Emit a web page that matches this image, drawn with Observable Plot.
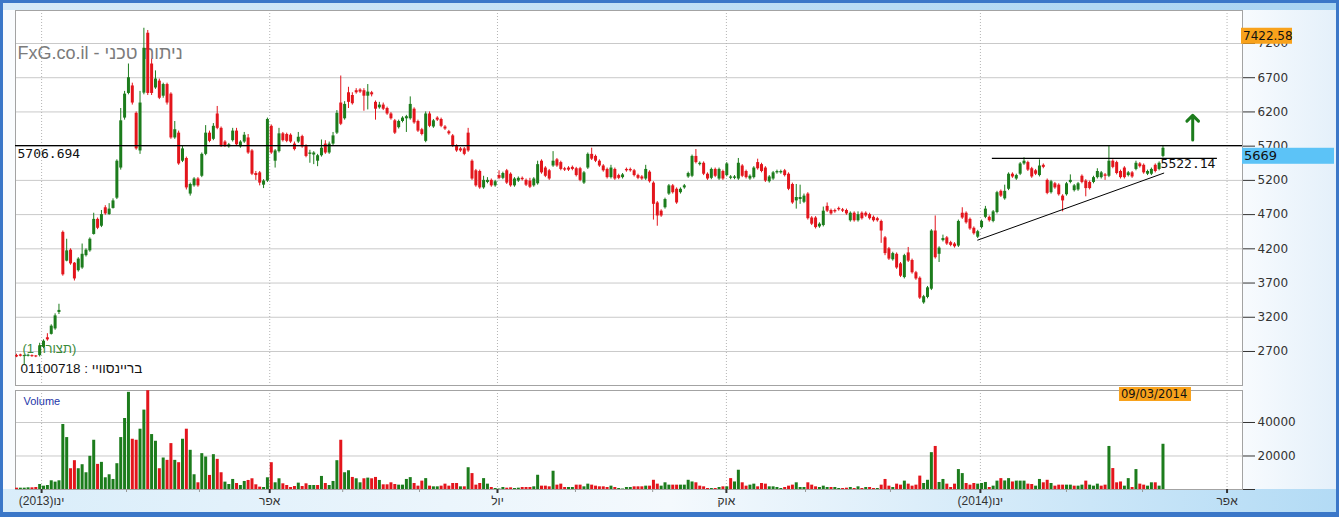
<!DOCTYPE html>
<html><head><meta charset="utf-8">
<script src="https://cdn.jsdelivr.net/npm/d3@7"></script>
<script src="https://cdn.jsdelivr.net/npm/@observablehq/plot@0.6"></script>
<style>
body{margin:0;background:#fff;}
#frame{position:relative;width:1339px;height:517px;overflow:hidden;background:#3b77c8;}
.bg{position:absolute;}
#topband{left:3px;top:3px;width:1333px;height:7px;background:linear-gradient(to right,#d6eaf8,#a9d4f2);}
#leftstrip{left:3px;top:10px;width:12px;height:479px;background:#fafcfe;}
#plotbg{left:15px;top:10px;width:1227px;height:479px;background:#fff;}
#rightpanel{left:1242px;top:10px;width:94px;height:479px;background:linear-gradient(to right,#f8fbfe,#e4f0fa);}
#bottomband{left:3px;top:489px;width:1333px;height:23px;background:linear-gradient(to right,#d9edfa 0%,#f4f9fd 50%,#b3dbf5 100%);}
#price,#vol{position:absolute;left:0;}
#price{top:0;} #vol{top:388px;}
svg{overflow:visible;}
</style></head>
<body>
<div id="frame">
<div class="bg" id="topband"></div>
<div class="bg" id="leftstrip"></div>
<div class="bg" id="plotbg"></div>
<div class="bg" id="rightpanel"></div>
<div class="bg" id="bottomband"></div>
<div id="price"></div>
<div id="vol"></div>
</div>
<script>
// ---- data (daily candles, index order) ----
const open = [
2640,2650,2625,2630,2640,2635,2640,2760,2900,2950,
3030,3270,4440,4020,4180,3990,3880,3920,4100,4170,
4410,4630,4530,4800,4700,4790,4940,5380,6110,6470,
6580,6180,5630,6475,7350,6900,6550,6650,6430,6600,
6460,5820,5890,5480,5520,5000,5120,5220,5260,5580,
5890,5800,6170,5960,5760,5690,5780,5920,5690,5760,
5820,5630,5300,5310,5130,5190,5990,5480,5620,5880,
5870,5860,5730,5760,5840,5700,5580,5570,5480,5560,
5730,5600,5730,5890,6330,6100,6480,6440,6510,6520,
6510,6430,6480,6340,6260,6300,6250,6170,6070,5970,
6060,6100,6100,6240,6060,5940,5770,6170,5980,6110,
6090,5980,5910,5850,5700,5660,5660,5890,5480,5340,
5330,5090,5170,5200,5120,5270,5230,5340,5290,5120,
5190,5230,5200,5190,5120,5150,5480,5380,5340,5410,
5500,5460,5370,5380,5390,5370,5370,5160,5380,5580,
5550,5480,5410,5360,5240,5360,5270,5240,5360,5360,
5340,5270,5250,5220,5320,5160,4870,4750,4800,5000,
5120,5070,5020,5090,5250,5260,5550,5430,5450,5290,
5230,5360,5220,5330,5270,5230,5230,5220,5410,5330,
5220,5240,5460,5430,5380,5180,5220,5310,5310,5340,
5290,5140,4900,4920,4880,5000,4650,4650,4520,4540,
4820,4760,4760,4790,4770,4760,4610,4720,4610,4720,
4720,4700,4660,4640,4600,4360,4200,4040,4120,3980,
3780,4140,4030,3850,3770,3410,3490,3610,4460,4120,
4320,4360,4290,4270,4240,4720,4720,4630,4500,4370,
4510,4660,4660,4600,4730,5040,4930,5070,5290,5220,
5290,5440,5460,5370,5340,5270,5420,5200,5020,5150,
5130,4970,4990,5170,5050,5060,5260,5190,5170,5170,
5240,5240,5280,5260,5480,5460,5330,5380,5270,5310,
5360,5440,5420,5290,5290,5420,5360,5550];
const high = [
2660,2660,2650,2660,2650,2640,2820,2870,2960,3090,
3250,3390,4460,4340,4200,4000,4070,4270,4200,4360,
4720,4650,4760,4830,4860,4930,5500,6250,6500,6900,
6620,6200,6500,7422.58,7390,6970,6800,6680,6620,6620,
6480,6060,5920,5700,5540,5160,5240,5240,5600,6000,
5920,6030,6280,5980,5780,5740,5960,5960,5780,5900,
5870,5650,5330,5330,5210,6110,6010,5650,5960,5900,
5890,5880,5760,5900,5860,5720,5640,5620,5580,5790,
5780,5760,5900,6220,6725,6350,6560,6480,6540,6540,
6540,6600,6500,6360,6340,6330,6270,6190,6090,6080,
6130,6150,6420,6260,6080,5960,6200,6200,6090,6130,
6110,6000,5930,5870,5720,5680,5680,5960,5500,5360,
5350,5260,5240,5220,5200,5340,5320,5360,5310,5240,
5250,5250,5220,5230,5240,5480,5500,5400,5360,5620,
5520,5480,5390,5400,5410,5390,5390,5330,5600,5670,
5570,5500,5430,5380,5420,5380,5290,5300,5380,5380,
5360,5290,5270,5420,5340,5180,4890,4770,4940,5140,
5140,5090,5090,5140,5320,5570,5650,5470,5470,5310,
5380,5380,5380,5350,5460,5270,5270,5520,5430,5350,
5280,5400,5510,5450,5400,5270,5330,5350,5350,5360,
5310,5160,5140,5130,5000,5020,4670,4670,4580,4810,
4870,4780,4780,4810,4790,4780,4740,4740,4740,4740,
4740,4720,4680,4660,4620,4380,4220,4150,4140,4000,
4120,4220,4050,3870,3790,3520,3650,4480,4680,4230,
4400,4380,4310,4290,4620,4800,4740,4650,4520,4470,
4620,4820,4680,4760,5040,5060,5130,5310,5310,5290,
5460,5530,5480,5390,5360,5500,5440,5220,5200,5170,
5150,4990,5170,5280,5140,5170,5280,5210,5190,5260,
5370,5330,5300,5700,5500,5480,5350,5400,5330,5330,
5480,5460,5440,5350,5380,5440,5470,5710];
const low = [
2610,2620,2500,2620,2615,2610,2620,2740,2850,2940,
3010,3240,3800,4010,3960,3730,3860,3900,4080,4150,
4400,4480,4510,4690,4690,4780,4920,5350,6080,6450,
6300,5640,5580,6450,6440,6440,6530,6380,6400,6300,
5800,5800,5420,5460,5060,4970,5100,5100,5240,5560,
5750,5780,5940,5680,5680,5670,5760,5700,5670,5740,
5580,5270,5200,5120,5080,5170,5580,5380,5600,5760,
5750,5740,5630,5740,5670,5530,5450,5430,5400,5540,
5580,5580,5710,5870,6000,6080,6250,6300,6460,6470,
6210,6230,6420,6080,6240,6220,6150,6080,5870,5950,
6040,5900,6080,6020,5900,5850,5750,5970,5960,6060,
5970,5930,5860,5680,5610,5610,5560,5610,5200,5100,
5070,5070,5150,5100,5100,5210,5210,5140,5100,5100,
5170,5190,5110,5080,5100,5130,5290,5240,5200,5390,
5390,5340,5330,5330,5340,5250,5180,5140,5360,5490,
5460,5390,5320,5220,5220,5200,5210,5220,5320,5320,
5250,5210,5200,5200,5160,4620,4530,4660,4780,4980,
5000,4850,5000,5070,5230,5240,5440,5410,5270,5200,
5210,5240,5200,5200,5250,5210,5210,5200,5240,5220,
5200,5220,5350,5310,5170,5160,5200,5290,5290,5250,
5050,4850,4780,4850,4860,4620,4540,4490,4500,4520,
4730,4690,4720,4750,4730,4690,4590,4590,4590,4620,
4660,4620,4590,4590,4280,4100,4030,4020,3900,3780,
3760,4000,3830,3740,3460,3390,3470,3590,4050,4000,
4300,4250,4230,4210,4220,4630,4560,4470,4400,4350,
4490,4640,4590,4580,4710,4950,4910,5050,5230,5200,
5270,5420,5330,5230,5270,5250,5370,4990,5000,5070,
4970,4740,4970,5150,5030,5040,5150,4960,5060,5150,
5220,5220,5200,5240,5370,5280,5220,5220,5250,5230,
5340,5380,5290,5270,5270,5310,5340,5530];
const close = [
2620,2630,2640,2645,2625,2620,2780,2850,2870,3070,
3220,3300,3820,4170,3980,3760,4050,4120,4180,4340,
4630,4500,4700,4710,4780,4900,5480,6070,6460,6700,
6330,5660,6330,7130,6470,6470,6680,6400,6600,6330,
5820,5940,5440,5660,5090,5140,5220,5120,5580,5890,
5770,5990,5960,5700,5700,5720,5920,5720,5760,5860,
5600,5290,5270,5160,5190,6090,5600,5630,5880,5780,
5770,5760,5650,5830,5690,5550,5600,5600,5560,5670,
5600,5730,5850,6180,6020,6310,6340,6320,6480,6490,
6430,6490,6450,6240,6300,6240,6170,6100,5890,6060,
6110,6130,6310,6040,5920,5870,6170,5990,6070,6080,
5990,5950,5880,5700,5630,5630,5580,5630,5220,5120,
5090,5200,5200,5120,5180,5230,5300,5160,5120,5220,
5230,5210,5130,5100,5220,5430,5310,5260,5220,5480,
5410,5360,5350,5350,5360,5270,5200,5310,5580,5510,
5480,5410,5340,5240,5380,5220,5230,5280,5340,5340,
5270,5230,5220,5360,5180,4850,4680,4680,4920,5120,
5020,4870,5070,5120,5300,5550,5460,5450,5290,5220,
5360,5260,5360,5220,5440,5250,5250,5450,5260,5240,
5260,5380,5370,5330,5190,5250,5310,5330,5330,5270,
5070,4870,4950,4950,4970,4640,4560,4510,4560,4750,
4750,4710,4740,4770,4750,4710,4720,4610,4700,4640,
4680,4640,4610,4610,4460,4130,4050,4130,3920,3800,
4100,4020,3850,3760,3480,3500,3630,4460,4070,4210,
4350,4270,4250,4230,4600,4650,4580,4490,4420,4450,
4600,4780,4610,4740,5020,4970,5040,5290,5250,5270,
5440,5480,5350,5250,5290,5410,5390,5010,5180,5090,
4990,4900,5150,5200,5120,5150,5170,5080,5080,5240,
5330,5310,5260,5480,5390,5300,5240,5240,5310,5250,
5450,5400,5310,5330,5360,5330,5450,5669];
const volume = [
800,800,800,1000,1000,1200,3000,2000,2400,5200,
4400,5200,38800,31000,12400,17200,12400,14800,10000,19800,
29400,15000,16200,7000,8800,6000,15400,31000,42400,58000,
30000,29400,36000,47400,59000,32800,28800,12400,18800,17400,
27400,17400,16000,30000,36000,23400,8800,4000,21400,19400,
8400,20800,18000,10000,4400,3000,6000,3600,2400,4800,
5400,6400,2800,1400,1200,7000,16000,4000,6400,3400,
2400,1200,1800,3800,1800,3400,2400,2400,2400,7800,
3600,2400,4800,17200,29400,10000,11200,7200,6400,4000,
6400,6800,6400,7200,5400,2800,2800,4000,3000,2600,
2600,6000,7100,3600,2000,5000,6500,2000,1600,1600,
2000,3200,2000,3600,3600,1600,1600,13000,9500,2600,
3600,6500,3200,1200,600,300,1200,800,1000,600,
800,1200,1200,1200,1600,8500,2000,2000,1600,10900,
2600,3200,1200,1200,1200,2600,2600,1600,3200,2600,
2000,1600,1600,1200,2000,1200,600,300,1200,1200,
1600,1600,1600,2000,2000,5500,3200,2000,4000,2600,
2600,2600,2600,2600,5500,4500,4000,2000,1600,600,
600,600,1200,1600,1600,6500,4500,11500,4000,2000,
2600,3200,1600,3600,3200,1600,1600,1200,600,1200,
2000,2600,4000,1200,1200,4000,2600,1600,1200,2000,
1200,1200,1200,600,600,800,1200,600,1600,600,
1200,1200,600,600,2600,6000,2000,1200,3200,2600,
5000,3200,2000,2600,8000,3600,5500,22000,25700,4200,
6000,3200,1200,3200,11900,9500,3600,2600,3600,3200,
3600,4200,1200,2000,5000,6500,5100,6500,4500,5000,
5000,5000,3200,3000,2000,6000,4000,5500,3600,2000,
2600,2600,2600,2600,2000,2000,2600,5000,2600,2000,
3200,2000,2600,25700,12500,4000,4500,2000,6500,1200,
11900,3200,2600,2000,4000,4000,2000,27000];

// ---- axes / annotations ----
const priceTicks = [2700, 3200, 3700, 4200, 4700, 5200, 5700, 6200, 6700, 7200];
const volTicks = [0, 20000, 40000];
const monthTicks = [6.5, 65.6, 124.6, 183.9, 249.7, 313.6];
const monthLabels = ["\u202Bינו(2013)\u202C", "אפר", "יול", "אוק", "\u202Bינו(2014)\u202C", "אפר"];
const minorTicks = [28.5, 47.4, 84.5, 104.4, 144.8, 164.8, 204.4, 226.4, 272.0, 291.7];
const resistance = 5706.694;
const flatTop = {value: 5522.14, from: 252.8, to: 311.1};
const trendX = [249.0, 297.2];
const trendY = [4327, 5306];
const arrowUp = {x: 304.7, from: 5790, to: 6150};
const highLabel = 7422.58;
const lastLabel = 5669;
const lastDate = "09/03/2014";
const titleText = "FxG.co.il - ניתוח טכני";
const patternText = "\u202B(תצורה 1)\u202C";
const symbolText = "\u202Bבריינסוויי : 01100718\u202C";
const xDomain = [-0.26, 317.6];

const N = close.length;
const idx = d3.range(N);
const UP = "#1c7c1c", DOWN = "#e3151c";
const cColor = idx.map(i => close[i] >= open[i] ? UP : DOWN);
const vColor = idx.map(i => (i === 0 ? close[i] >= open[i] : close[i] >= close[i - 1]) ? UP : DOWN);
const monthMap = new Map(monthTicks.map((d, k) => [d, monthLabels[k]]));

const price = Plot.plot({
  width: 1339, height: 388,
  marginLeft: 15, marginRight: 97, marginTop: 10, marginBottom: 3,
  x: {domain: xDomain, axis: null},
  y: {domain: [2203, 7682], axis: null},
  color: {type: "identity"},
  style: {background: "transparent", fontFamily: "DejaVu Sans", fontSize: "12px", overflow: "visible"},
  marks: [
    Plot.gridY(priceTicks, {stroke: "#c9c9c9", strokeOpacity: 1}),
    Plot.gridX(monthTicks, {stroke: "#b4b4b4", strokeOpacity: 1, strokeDasharray: "1,2"}),
    Plot.frame({stroke: "#a3a3a3"}),
    Plot.axisY(priceTicks, {anchor: "right", tickSize: 12, tickPadding: 3, fontSize: 12, color: "#333", label: null, tickFormat: d => String(d)}),
    Plot.text([titleText], {frameAnchor: "top-left", dx: 2, dy: 36, fontSize: 18, fontFamily: "Liberation Sans", fill: "#7b7b7b", textAnchor: "start"}),
    Plot.text([patternText], {frameAnchor: "bottom-left", dx: 7, dy: -33, fontSize: 13, fontFamily: "Liberation Sans", fill: "#3a8a3a", textAnchor: "start"}),
    Plot.text([symbolText], {frameAnchor: "bottom-left", dx: 5, dy: -13, fontSize: 13.5, fontFamily: "Liberation Sans", fill: "#111", textAnchor: "start"}),
    Plot.ruleX(idx, {x: i => i, y1: i => low[i], y2: i => high[i], stroke: i => cColor[i], strokeWidth: 1}),
    Plot.ruleX(idx, {x: i => i, y1: i => open[i], y2: i => close[i], stroke: i => cColor[i], strokeWidth: 3}),
    Plot.ruleY([resistance], {stroke: "#000", strokeWidth: 1.2}),
    Plot.ruleY([flatTop], {y: d => d.value, x1: d => d.from, x2: d => d.to, stroke: "#000", strokeWidth: 1.2}),
    Plot.line(trendX.map((x, k) => [x, trendY[k]]), {stroke: "#000", strokeWidth: 1}),
    Plot.arrow([arrowUp], {x1: d => d.x, x2: d => d.x, y1: d => d.from, y2: d => d.to, stroke: "#1c7c1c", strokeWidth: 3, headLength: 10, headAngle: 90}),
    Plot.text([resistance], {y: d => d, frameAnchor: "left", dx: 2, dy: 8, text: d => d.toFixed(3), fontFamily: "DejaVu Sans Mono", fontSize: 13, fill: "#111", textAnchor: "start"}),
    Plot.text([flatTop], {x: d => d.to, y: d => d.value, dx: -2, dy: 6, text: d => d.value.toFixed(2), fontFamily: "DejaVu Sans Mono", fontSize: 13, fill: "#111", textAnchor: "end"})
  ]
});

const vol = Plot.plot({
  width: 1339, height: 129,
  marginLeft: 15, marginRight: 97, marginTop: 2, marginBottom: 28,
  x: {domain: xDomain, axis: null},
  y: {domain: [0, 59100], axis: null},
  color: {type: "identity"},
  style: {background: "transparent", fontFamily: "DejaVu Sans", fontSize: "12px", overflow: "visible"},
  marks: [
    Plot.gridY(volTicks.filter(d => d > 0), {stroke: "#c9c9c9", strokeOpacity: 1}),
    Plot.gridX(monthTicks, {stroke: "#b4b4b4", strokeOpacity: 1, strokeDasharray: "1,2"}),
    Plot.frame({stroke: "#a3a3a3"}),
    Plot.axisY(volTicks, {anchor: "right", tickSize: 12, tickPadding: 3, fontSize: 12, color: "#333", label: null, tickFormat: d => d === 0 ? "" : String(d)}),
    Plot.axisX(minorTicks, {anchor: "bottom", tickSize: 3, tickFormat: () => "", color: "#999", label: null}),
    Plot.axisX(monthTicks, {anchor: "bottom", tickSize: 4, tickPadding: 3, strokeWidth: 2, fontSize: 12, fontFamily: "Liberation Sans", color: "#333", label: null, tickFormat: d => monthMap.get(d)}),
    Plot.ruleX(idx, {x: i => i, y1: 0, y2: i => volume[i], stroke: i => vColor[i], strokeWidth: 3}),
    Plot.text(["Volume"], {frameAnchor: "top-left", dx: 8, dy: 7, fontSize: 11, fontFamily: "Liberation Sans", fill: "#2436a8", textAnchor: "start"})
  ]
});

document.getElementById("price").appendChild(price);
document.getElementById("vol").appendChild(vol);

function tag(svg, x, y, w, h, fill, label, fs) {
  const g = d3.select(svg).append("g").attr("text-anchor", "start");
  g.append("rect").attr("x", x).attr("y", y).attr("width", w).attr("height", h).attr("fill", fill);
  g.append("text").attr("x", x + 2).attr("y", y + h - 3.5).attr("font-size", fs)
    .attr("text-anchor", "start").attr("font-family", "DejaVu Sans").attr("fill", "#111").text(label);
}
const ys = price.scale("y"), xs = price.scale("x"), xv = vol.scale("x");
const right = xs.apply(xDomain[1]);
tag(price, right - 1, ys.apply(highLabel), 51, 16, "#f8a21c", String(highLabel), 12);
tag(price, right, ys.apply(lastLabel), 92, 16, "#5cc3f7", String(lastLabel), 13);
tag(vol, xv.apply(N - 1) - 43.5, -1, 72, 14, "#f8a21c", lastDate, 11.5);
</script>
</body></html>
